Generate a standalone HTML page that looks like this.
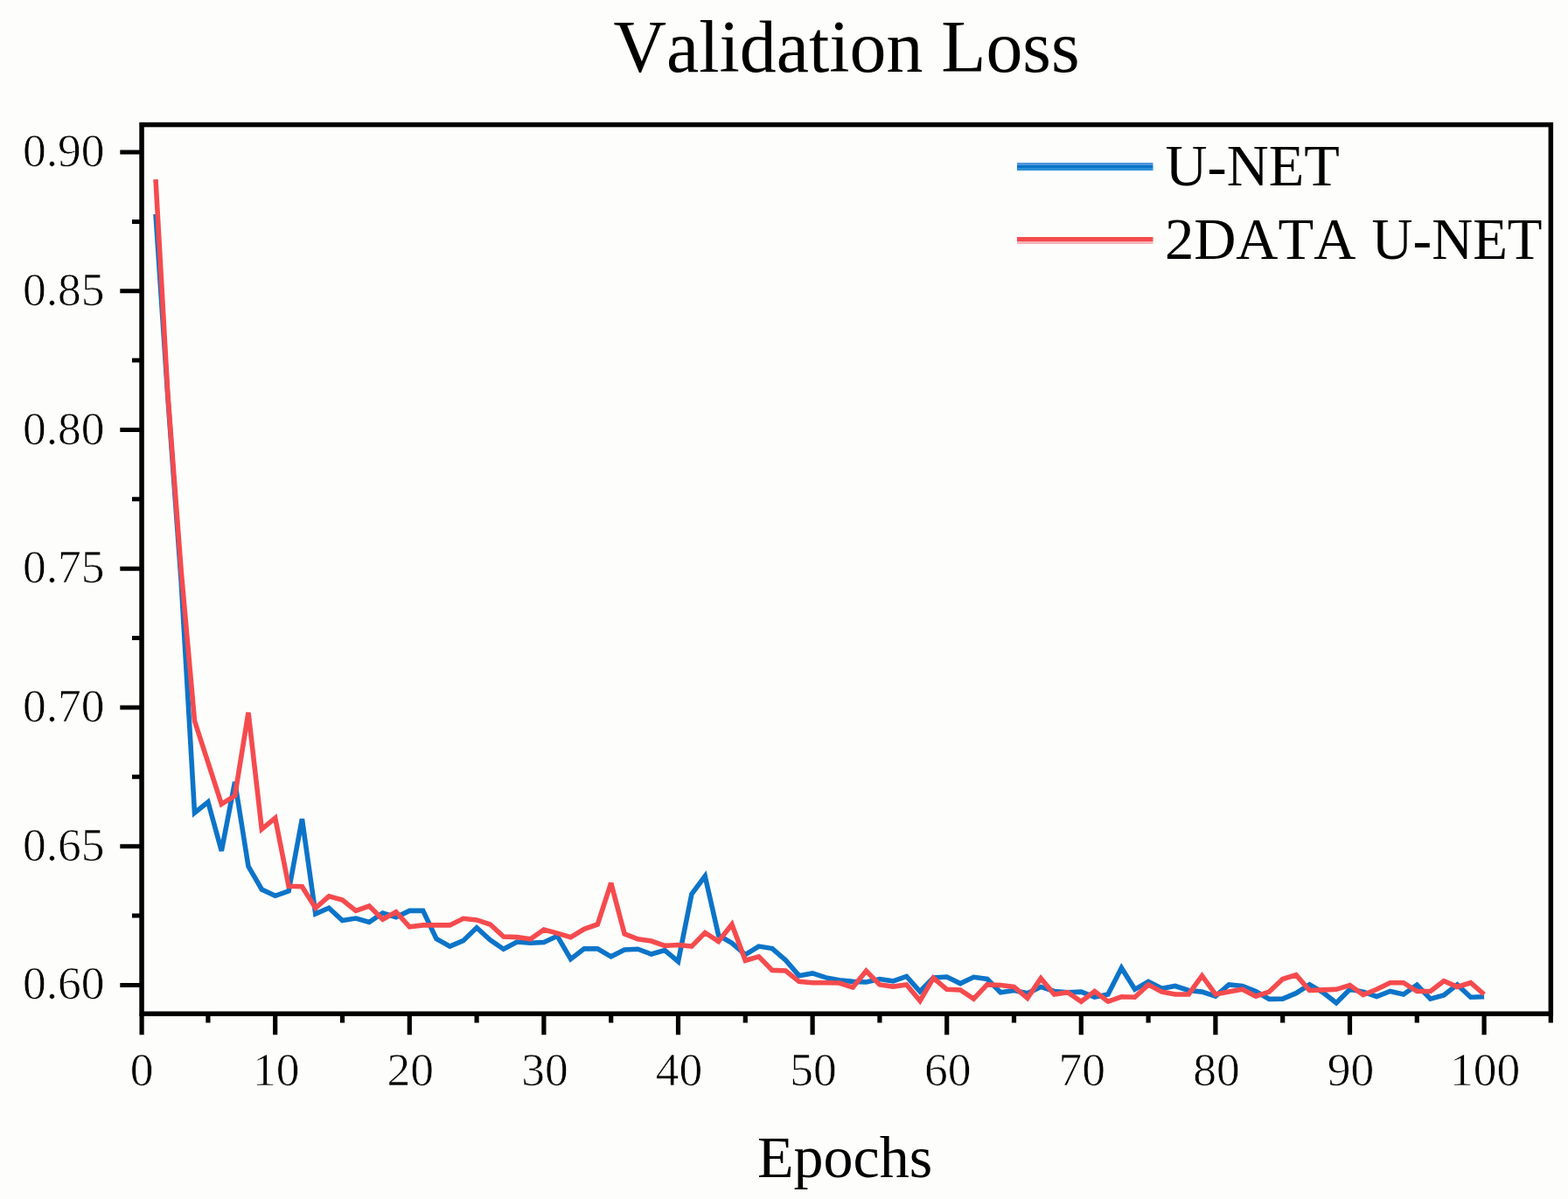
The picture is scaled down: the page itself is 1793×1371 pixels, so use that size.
<!DOCTYPE html>
<html><head><meta charset="utf-8"><title>Validation Loss</title>
<style>
html,body{margin:0;padding:0;background:#fdfdfc;}
body{width:1793px;height:1371px;overflow:hidden;}
svg{display:block;}
text{fill:#000;font-kerning:none;}
.tl{stroke:#fdfdfc;stroke-width:0.7px;}
</style></head>
<body>
<svg width="1793" height="1371" viewBox="0 0 1793 1371" font-family='"Liberation Serif", serif'>
<rect x="0" y="0" width="1793" height="1371" fill="#fdfdfc"/>
<polyline fill="none" stroke="#0c74c8" stroke-width="5.6" stroke-linejoin="miter" stroke-miterlimit="3" points="178.0,244.9 191.8,452.9 207.2,665.6 222.5,929.4 237.9,917.0 253.3,972.9 268.6,894.1 284.0,990.6 299.3,1017.0 314.7,1024.3 330.1,1018.9 345.4,936.4 360.8,1044.9 376.1,1038.3 391.5,1052.5 406.9,1050.0 422.2,1054.5 437.6,1044.0 452.9,1048.7 468.3,1041.4 483.7,1041.4 499.0,1073.5 514.4,1082.1 529.7,1075.7 545.1,1060.8 560.5,1074.8 575.8,1085.2 591.2,1077.0 606.5,1078.3 621.9,1077.6 637.3,1070.3 652.6,1096.7 668.0,1084.9 683.3,1084.9 698.7,1093.8 714.1,1085.9 729.4,1085.2 744.8,1091.0 760.1,1086.5 775.5,1099.5 790.9,1022.4 806.2,1001.8 821.6,1069.4 836.9,1078.3 852.3,1091.6 867.7,1082.1 883.0,1084.6 898.4,1097.9 913.7,1115.7 929.1,1112.9 944.5,1117.9 959.8,1120.8 975.2,1122.4 990.5,1123.0 1005.9,1119.5 1021.3,1121.8 1036.6,1116.4 1052.0,1133.8 1067.3,1117.9 1082.7,1117.0 1098.1,1124.6 1113.4,1117.3 1128.8,1119.5 1144.1,1134.8 1159.5,1132.5 1174.9,1135.7 1190.2,1128.4 1205.6,1133.5 1220.9,1134.8 1236.3,1134.1 1251.7,1140.2 1267.0,1137.0 1282.4,1106.8 1297.7,1131.3 1313.1,1122.4 1328.5,1130.3 1343.8,1127.5 1359.2,1132.5 1374.5,1134.1 1389.9,1139.2 1405.3,1125.9 1420.6,1127.5 1436.0,1133.5 1451.3,1142.4 1466.7,1142.1 1482.1,1135.7 1497.4,1125.9 1512.8,1134.8 1528.1,1146.8 1543.5,1131.3 1558.9,1134.1 1574.2,1139.5 1589.6,1133.5 1604.9,1137.0 1620.3,1126.2 1635.7,1142.1 1651.0,1137.9 1666.4,1125.9 1681.7,1140.2 1697.1,1139.8"/>
<polyline fill="none" stroke="#f54b4e" stroke-width="5.6" stroke-linejoin="miter" stroke-miterlimit="3" points="178.0,205.2 191.8,449.7 207.2,652.9 222.5,824.3 237.9,871.9 253.3,919.5 268.6,910.0 284.0,814.8 299.3,948.1 314.7,935.4 330.1,1013.2 345.4,1013.8 360.8,1038.3 376.1,1024.9 391.5,1029.1 406.9,1041.4 422.2,1036.0 437.6,1051.3 452.9,1042.7 468.3,1059.8 483.7,1057.9 499.0,1057.9 514.4,1057.9 529.7,1050.3 545.1,1051.9 560.5,1057.0 575.8,1071.0 591.2,1071.6 606.5,1073.8 621.9,1063.0 637.3,1067.1 652.6,1071.6 668.0,1062.4 683.3,1057.0 698.7,1009.7 714.1,1067.8 729.4,1073.8 744.8,1076.0 760.1,1081.4 775.5,1080.5 790.9,1082.1 806.2,1066.5 821.6,1076.4 836.9,1057.0 852.3,1098.3 867.7,1093.8 883.0,1109.4 898.4,1110.0 913.7,1122.4 929.1,1123.7 944.5,1123.7 959.8,1124.0 975.2,1129.1 990.5,1110.3 1005.9,1125.9 1021.3,1128.1 1036.6,1125.9 1052.0,1144.3 1067.3,1118.3 1082.7,1131.3 1098.1,1131.9 1113.4,1142.1 1128.8,1125.9 1144.1,1126.5 1159.5,1128.4 1174.9,1141.4 1190.2,1118.6 1205.6,1137.0 1220.9,1134.8 1236.3,1145.2 1251.7,1133.5 1267.0,1145.2 1282.4,1139.8 1297.7,1140.2 1313.1,1125.9 1328.5,1134.1 1343.8,1137.0 1359.2,1137.0 1374.5,1115.7 1389.9,1137.0 1405.3,1134.1 1420.6,1131.3 1436.0,1139.2 1451.3,1134.1 1466.7,1119.5 1482.1,1114.8 1497.4,1132.5 1512.8,1131.9 1528.1,1131.3 1543.5,1126.5 1558.9,1137.6 1574.2,1131.3 1589.6,1123.7 1604.9,1123.7 1620.3,1133.5 1635.7,1133.5 1651.0,1121.8 1666.4,1128.4 1681.7,1123.7 1697.1,1137.0"/>
<rect x="162.05" y="142.6" width="1611.3" height="1016.6" fill="none" stroke="#000" stroke-width="5.5"/>
<path d="M137.3,1126.4H162.05M137.3,967.7H162.05M137.3,808.9H162.05M137.3,650.2H162.05M137.3,491.5H162.05M137.3,332.7H162.05M137.3,174.0H162.05M151.0,1047.0H162.05M151.0,888.3H162.05M151.0,729.6H162.05M151.0,570.8H162.05M151.0,412.1H162.05M151.0,253.4H162.05" stroke="#000" stroke-width="5" fill="none"/>
<path d="M162.1,1159.2V1183.3M314.7,1159.2V1183.3M468.3,1159.2V1183.3M621.9,1159.2V1183.3M775.5,1159.2V1183.3M929.1,1159.2V1183.3M1082.7,1159.2V1183.3M1236.3,1159.2V1183.3M1389.9,1159.2V1183.3M1543.5,1159.2V1183.3M1697.1,1159.2V1183.3M237.9,1159.2V1169.6M391.5,1159.2V1169.6M545.1,1159.2V1169.6M698.7,1159.2V1169.6M852.3,1159.2V1169.6M1005.9,1159.2V1169.6M1159.5,1159.2V1169.6M1313.1,1159.2V1169.6M1466.7,1159.2V1169.6M1620.3,1159.2V1169.6M1773.3,1159.2V1169.6" stroke="#000" stroke-width="5.2" fill="none"/>
<text class="tl" x="119.6" y="1142.4" text-anchor="end" font-size="53.5">0.60</text>
<text class="tl" x="119.6" y="983.7" text-anchor="end" font-size="53.5">0.65</text>
<text class="tl" x="119.6" y="824.9" text-anchor="end" font-size="53.5">0.70</text>
<text class="tl" x="119.6" y="666.2" text-anchor="end" font-size="53.5">0.75</text>
<text class="tl" x="119.6" y="507.5" text-anchor="end" font-size="53.5">0.80</text>
<text class="tl" x="119.6" y="348.7" text-anchor="end" font-size="53.5">0.85</text>
<text class="tl" x="119.6" y="190.0" text-anchor="end" font-size="53.5">0.90</text>
<text class="tl" x="162.1" y="1240.5" text-anchor="middle" font-size="53.5">0</text>
<text class="tl" x="315.7" y="1240.5" text-anchor="middle" font-size="53.5">10</text>
<text class="tl" x="469.3" y="1240.5" text-anchor="middle" font-size="53.5">20</text>
<text class="tl" x="622.9" y="1240.5" text-anchor="middle" font-size="53.5">30</text>
<text class="tl" x="776.5" y="1240.5" text-anchor="middle" font-size="53.5">40</text>
<text class="tl" x="930.1" y="1240.5" text-anchor="middle" font-size="53.5">50</text>
<text class="tl" x="1083.7" y="1240.5" text-anchor="middle" font-size="53.5">60</text>
<text class="tl" x="1237.3" y="1240.5" text-anchor="middle" font-size="53.5">70</text>
<text class="tl" x="1390.9" y="1240.5" text-anchor="middle" font-size="53.5">80</text>
<text class="tl" x="1544.5" y="1240.5" text-anchor="middle" font-size="53.5">90</text>
<text class="tl" x="1698.1" y="1240.5" text-anchor="middle" font-size="53.5">100</text>
<text x="701.6" y="82" font-size="85" textLength="533" lengthAdjust="spacingAndGlyphs">Validation Loss</text>
<text x="966" y="1346" text-anchor="middle" font-size="68">Epochs</text>
<rect x="1163" y="186" width="155.5" height="3" fill="#5096dc"/>
<rect x="1163" y="189" width="155.5" height="3" fill="#0c74c8"/>
<rect x="1163" y="192" width="155.5" height="3" fill="#2b8fd7"/>
<rect x="1163" y="271" width="155.5" height="5" fill="#f54b4e"/>
<rect x="1163" y="276" width="155.5" height="3" fill="#f5b4b8"/>
<text x="1332.6" y="212" font-size="68.5" textLength="199.3" lengthAdjust="spacingAndGlyphs">U-NET</text>
<text y="296" font-size="68"><tspan x="1331.9" textLength="218.5" lengthAdjust="spacingAndGlyphs">2DATA</tspan> <tspan x="1568.6" textLength="195" lengthAdjust="spacingAndGlyphs">U-NET</tspan></text>
</svg>
</body></html>
